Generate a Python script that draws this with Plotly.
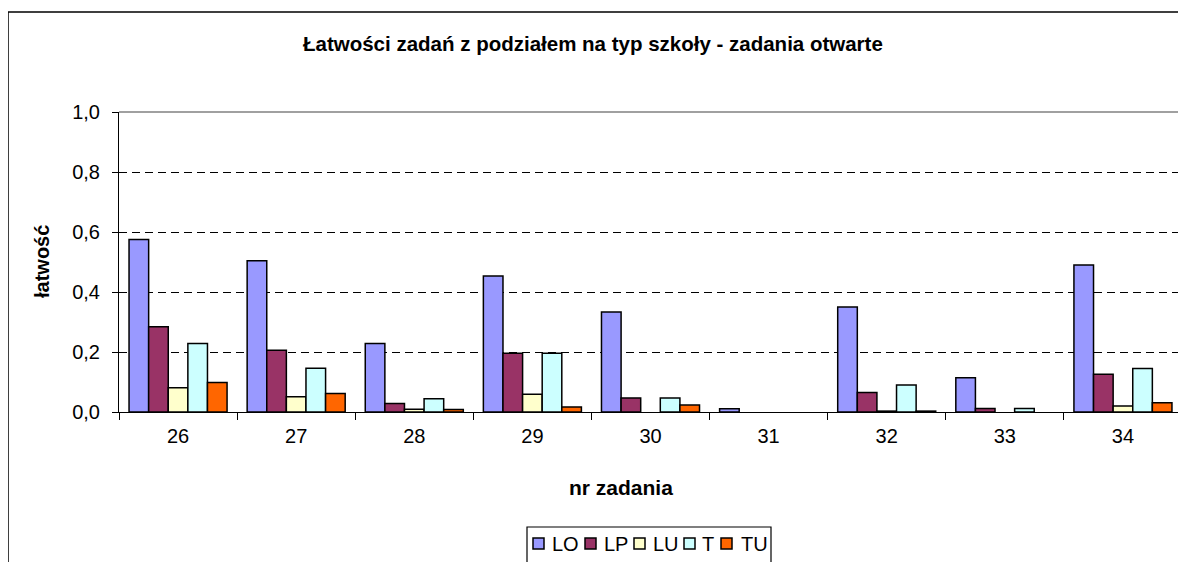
import plotly.graph_objects as go

# task numbers on the x axis
zadania = ["26", "27", "28", "29", "30", "31", "32", "33", "34"]

# easiness per school type
lo = [0.575, 0.504, 0.228, 0.453, 0.333, 0.011, 0.350, 0.114, 0.490]
lp = [0.284, 0.206, 0.028, 0.196, 0.047, None, 0.065, 0.012, 0.126]
lu = [0.081, 0.051, 0.009, 0.059, None, None, 0.003, None, 0.020]
t = [0.228, 0.146, 0.044, 0.196, 0.047, None, 0.090, 0.012, 0.145]
tu = [0.098, 0.062, 0.008, 0.017, 0.023, None, 0.003, None, 0.031]

series = [
    ("LO", lo, "#9999FF"),
    ("LP", lp, "#993366"),
    ("LU", lu, "#FFFFCC"),
    ("T", t, "#CCFFFF"),
    ("TU", tu, "#FF6600"),
]

FONT = "Liberation Sans, Arial, sans-serif"

# plot area in page pixels (page has the default 8px body margin)
PX0, PX1, PY0, PY1 = 119, 1182, 112, 412


def px(x):
    return (x - PX0) / (PX1 - PX0)


def py(y):
    return (PY1 - y) / (PY1 - PY0)


fig = go.Figure()
for name, vals, color in series:
    fig.add_trace(go.Bar(
        x=zadania, y=vals, name=name,
        marker=dict(color=color, line=dict(color="black", width=1.5)),
    ))

shapes = [
    # outer chart border, running off the right and bottom edges
    dict(type="rect", xref="paper", yref="paper", x0=px(8), y0=py(600),
         x1=px(1200), y1=py(12), line=dict(color="black", width=1.5), layer="below"),
    # grey plot-area border on top and right
    dict(type="line", xref="paper", yref="paper", x0=0, y0=1, x1=1, y1=1,
         line=dict(color="#808080", width=1.5)),
    dict(type="line", xref="paper", yref="paper", x0=1, y0=0, x1=1, y1=1,
         line=dict(color="#808080", width=1.5)),
    # legend box
    dict(type="rect", xref="paper", yref="paper", x0=px(527), y0=py(600),
         x1=px(771), y1=py(527), line=dict(color="black", width=1.2)),
]

annotations = [
    dict(text="<b>Łatwości zadań z podziałem na typ szkoły - zadania otwarte</b>",
         xref="paper", yref="paper", x=px(593), y=py(43), showarrow=False,
         xanchor="center", yanchor="middle", font=dict(size=20.5)),
    dict(text="<b>nr zadania</b>", xref="paper", yref="paper",
         x=px(621), y=py(487), showarrow=False,
         xanchor="center", yanchor="middle", font=dict(size=21)),
    dict(text="<b>łatwość</b>", xref="paper", yref="paper",
         x=px(42), y=py(262), textangle=-90, showarrow=False,
         xanchor="center", yanchor="middle", font=dict(size=20)),
]

# hand-placed legend to match the compact original
legend_sq = [533, 585, 634, 684, 721]
legend_tx = [550, 602, 651, 700, 739]
for (name, _, color), sx, tx in zip(series, legend_sq, legend_tx):
    shapes.append(dict(type="rect", xref="paper", yref="paper",
                       x0=px(sx), x1=px(sx + 11), y0=py(549), y1=py(538),
                       fillcolor=color, line=dict(color="black", width=1.5)))
    annotations.append(dict(text=name, xref="paper", yref="paper",
                            x=px(tx), y=py(543.5), xanchor="left",
                            yanchor="middle", showarrow=False,
                            font=dict(size=20)))

fig.update_layout(
    width=1178, height=554, autosize=False,
    margin=dict(l=PX0 - 8, r=1186 - PX1, t=PY0 - 8, b=562 - PY1),
    paper_bgcolor="white", plot_bgcolor="white",
    separators=", ",
    barmode="group", bargap=0.17, bargroupgap=0,
    font=dict(family=FONT, size=20, color="black"),
    showlegend=False,
    xaxis=dict(
        type="category", showline=True, linecolor="black", linewidth=1,
        ticks="outside", tickson="boundaries", ticklen=7, tickcolor="black",
        showgrid=False, tickfont=dict(size=20), ticklabelstandoff=6,
    ),
    yaxis=dict(
        range=[0, 1], dtick=0.2, tickformat=".1f",
        showline=True, linecolor="black", linewidth=1,
        ticks="outside", ticklen=6, tickcolor="black",
        showgrid=True, gridcolor="black", gridwidth=1, griddash="8px,5px",
        zeroline=False, tickfont=dict(size=20), ticklabelstandoff=8,
    ),
    shapes=shapes,
    annotations=annotations,
)

fig.write_html("out.html")
